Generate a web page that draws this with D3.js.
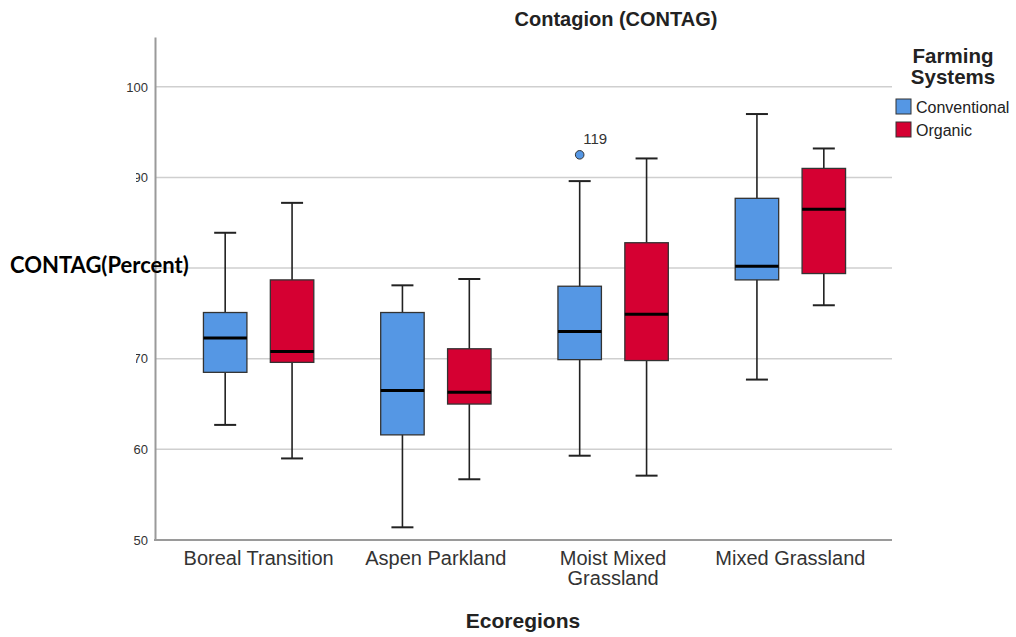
<!DOCTYPE html>
<html>
<head>
<meta charset="utf-8">
<script src="https://cdn.jsdelivr.net/npm/d3@7"></script>
<style>
  html, body { margin: 0; padding: 0; background: #fff; }
  svg { display: block; }
</style>
</head>
<body>
<svg id="chart" width="1016" height="637"></svg>
<script>
// Ecoregions along the x axis (line breaks marked with "\n")
const categories = ["Boreal Transition", "Aspen Parkland", "Moist Mixed\nGrassland", "Mixed Grassland"];
const seriesNames = ["Conventional", "Organic"];
const seriesColors = ["#5597e4", "#d50032"];

// Box statistics per ecoregion: [whisker low, Q1, median, Q3, whisker high]
const conventionalStats = [
  [62.7, 68.5, 72.3, 75.1, 83.9],
  [51.4, 61.6, 66.5, 75.1, 78.1],
  [59.3, 69.9, 73.0, 78.0, 89.6],
  [67.7, 78.7, 80.2, 87.7, 97.0]
];
const organicStats = [
  [59.0, 69.6, 70.8, 78.7, 87.2],
  [56.7, 65.0, 66.3, 71.1, 78.8],
  [57.1, 69.8, 74.9, 82.8, 92.1],
  [75.9, 79.4, 86.5, 91.0, 93.2]
];

// Outliers: [ecoregion index, series index, value, case label]
const outliers = [
  [2, 0, 92.5, "119"]
];

const yTicks = [50, 60, 70, 80, 90, 100];
// 80 sits under the axis title, so its label is left blank
const yTickLabels = ["50", "60", "70", "", "90", "100"];

const svg = d3.select("#chart");
const plotLeft = 155, plotRight = 892, plotTop = 37, plotBottom = 540;

const x = d3.scaleBand().domain(categories).range([170, 879]).padding(0);
const sub = d3.scaleBand().domain(seriesNames).range([0, x.bandwidth()]).paddingInner(0.35).paddingOuter(0.5);
const y = d3.scaleLinear().domain([50, 105.5]).range([plotBottom, plotTop]);

// Horizontal grid lines
svg.append("g")
  .selectAll("line")
  .data(yTicks.filter(t => t > 50))
  .join("line")
  .attr("x1", plotLeft).attr("x2", plotRight)
  .attr("y1", d => y(d)).attr("y2", d => y(d))
  .attr("stroke", "#cfcfcf").attr("stroke-width", 1.5);

// Y axis
const yAxis = svg.append("g")
  .attr("transform", `translate(${plotLeft},0)`)
  .call(d3.axisLeft(y).tickValues(yTicks)
    .tickFormat((d, i) => yTickLabels[i])
    .tickSize(0).tickPadding(7));
yAxis.select(".domain").attr("stroke", "#9a9a9a").attr("stroke-width", 2);
yAxis.selectAll("text")
  .attr("font-family", "Liberation Sans, Arial, sans-serif")
  .attr("font-size", 13).attr("fill", "#333");

// X axis line
svg.append("line")
  .attr("x1", plotLeft - 1).attr("x2", plotRight)
  .attr("y1", plotBottom).attr("y2", plotBottom)
  .attr("stroke", "#9a9a9a").attr("stroke-width", 2);

// Category labels
const catLabels = svg.append("g")
  .selectAll("text")
  .data(categories)
  .join("text")
  .attr("x", d => x(d) + x.bandwidth() / 2)
  .attr("y", 565)
  .attr("text-anchor", "middle")
  .attr("font-family", "Liberation Sans, Arial, sans-serif")
  .attr("font-size", 20).attr("fill", "#333");
catLabels.each(function(d) {
  const lines = d.split("\n");
  d3.select(this).selectAll("tspan")
    .data(lines)
    .join("tspan")
    .attr("x", x(d) + x.bandwidth() / 2)
    .attr("dy", (l, i) => i === 0 ? 0 : 20)
    .text(l => l);
});

// Boxes
const allStats = [conventionalStats, organicStats];
const boxW = sub.bandwidth(), capW = 22;
const boxes = svg.append("g");
allStats.forEach((stats, si) => {
  stats.forEach((s, ci) => {
    const cx = x(categories[ci]) + sub(seriesNames[si]) + sub.bandwidth() / 2;
    const g = boxes.append("g");
    // whisker stem
    g.append("line")
      .attr("x1", cx).attr("x2", cx)
      .attr("y1", y(s[0])).attr("y2", y(s[4]))
      .attr("stroke", "#222").attr("stroke-width", 1.6);
    // caps
    [s[0], s[4]].forEach(v => {
      g.append("line")
        .attr("x1", cx - capW / 2).attr("x2", cx + capW / 2)
        .attr("y1", y(v)).attr("y2", y(v))
        .attr("stroke", "#222").attr("stroke-width", 2);
    });
    // box
    g.append("rect")
      .attr("x", cx - boxW / 2).attr("width", boxW)
      .attr("y", y(s[3])).attr("height", y(s[1]) - y(s[3]))
      .attr("fill", seriesColors[si])
      .attr("stroke", "#333").attr("stroke-width", 1.3);
    // median
    g.append("line")
      .attr("x1", cx - boxW / 2).attr("x2", cx + boxW / 2)
      .attr("y1", y(s[2])).attr("y2", y(s[2]))
      .attr("stroke", "#000").attr("stroke-width", 3);
  });
});

// Outliers
outliers.forEach(([ci, si, v, lab]) => {
  const cx = x(categories[ci]) + sub(seriesNames[si]) + sub.bandwidth() / 2;
  svg.append("circle")
    .attr("cx", cx).attr("cy", y(v)).attr("r", 4.3)
    .attr("fill", seriesColors[si]).attr("stroke", "#333").attr("stroke-width", 1);
  svg.append("text")
    .attr("x", cx + 3.5).attr("y", y(v) - 11)
    .attr("font-family", "Liberation Sans, Arial, sans-serif")
    .attr("font-size", 15).attr("fill", "#333")
    .text(lab);
});

// Y axis title on a white panel
svg.append("rect").attr("x", 0).attr("y", 170).attr("width", 136).attr("height", 196).attr("fill", "#fff");
svg.append("text")
  .attr("x", 10).attr("y", 273)
  .attr("font-family", "Lato, Carlito, sans-serif")
  .attr("font-weight", "bold").attr("font-size", 22).attr("fill", "#000")
  .text("CONTAG(Percent)");

// Chart title
svg.append("text")
  .attr("x", 616).attr("y", 26)
  .attr("text-anchor", "middle")
  .attr("font-family", "Liberation Sans, Arial, sans-serif")
  .attr("font-weight", "bold").attr("font-size", 20).attr("fill", "#222")
  .text("Contagion (CONTAG)");

// X axis title
svg.append("text")
  .attr("x", 523).attr("y", 628)
  .attr("text-anchor", "middle")
  .attr("font-family", "Liberation Sans, Arial, sans-serif")
  .attr("font-weight", "bold").attr("font-size", 21).attr("fill", "#222")
  .text("Ecoregions");

// Legend
const legend = svg.append("g");
legend.append("text")
  .attr("x", 953).attr("y", 63)
  .attr("text-anchor", "middle")
  .attr("font-family", "Liberation Sans, Arial, sans-serif")
  .attr("font-weight", "bold").attr("font-size", 20.5).attr("fill", "#222")
  .selectAll("tspan")
  .data(["Farming", "Systems"])
  .join("tspan")
  .attr("x", 953)
  .attr("dy", (d, i) => i === 0 ? 0 : 21)
  .text(d => d);
seriesNames.forEach((name, i) => {
  legend.append("rect")
    .attr("x", 896).attr("y", 99 + i * 23)
    .attr("width", 15).attr("height", 15)
    .attr("fill", seriesColors[i]).attr("stroke", "#333").attr("stroke-width", 1);
  legend.append("text")
    .attr("x", 916).attr("y", 113 + i * 23)
    .attr("font-family", "Liberation Sans, Arial, sans-serif")
    .attr("font-size", 16).attr("fill", "#222")
    .text(name);
});
</script>
</body>
</html>
